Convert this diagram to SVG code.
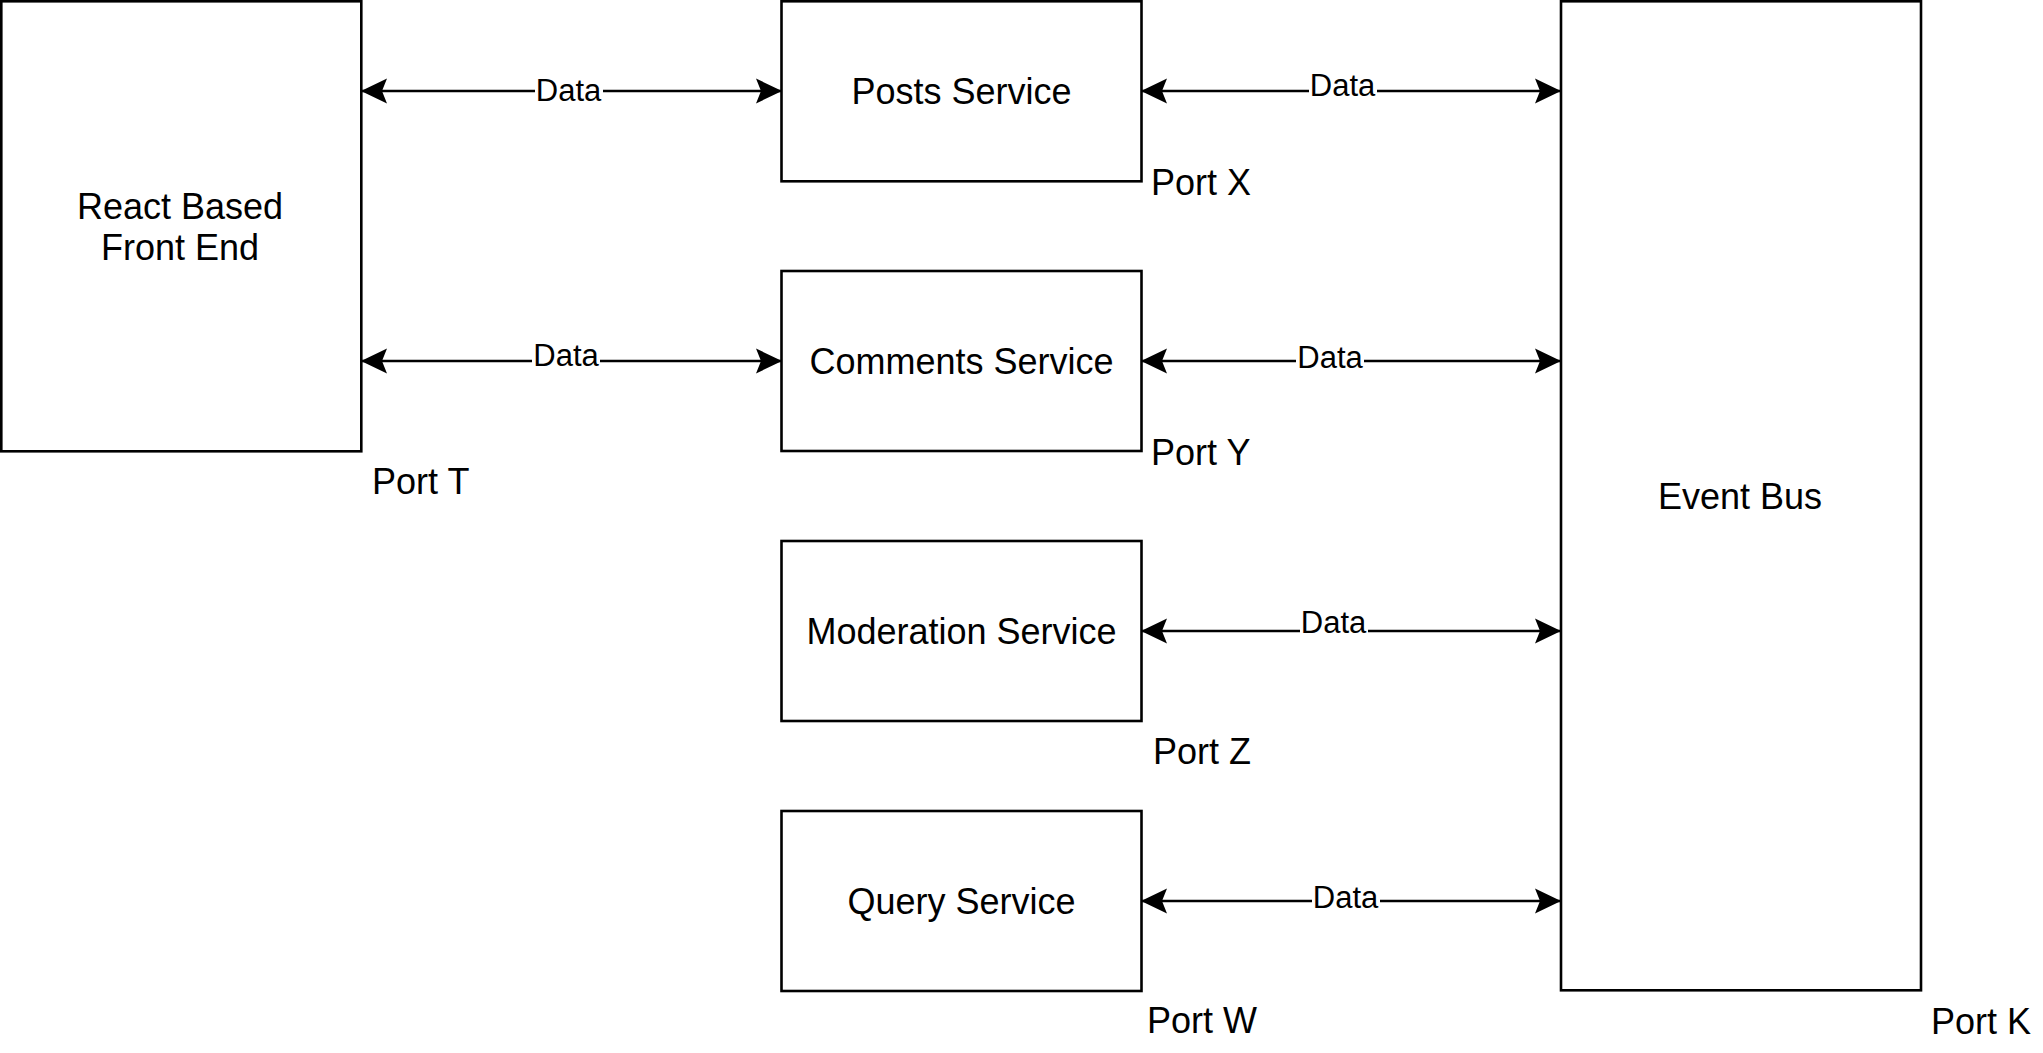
<svg xmlns="http://www.w3.org/2000/svg" width="2043" height="1053" viewBox="0 0 2043 1053">
<style>
.box{fill:#fff;stroke:#000;stroke-width:2.6}
.lbl{font-family:"Liberation Sans",Arial,sans-serif;font-size:36px;fill:#000}
.mid{text-anchor:middle}
.edge{stroke:#000;stroke-width:2.4;fill:none}
.elbl{font-family:"Liberation Sans",Arial,sans-serif;font-size:31px;fill:#000;text-anchor:middle}
.bg{fill:#fff}
</style>
<defs>
<marker id="arr" viewBox="0 0 26 26" refX="25" refY="13" markerWidth="26" markerHeight="26" markerUnits="userSpaceOnUse" orient="auto-start-reverse">
<path d="M0,0.5 L26,13 L0,25.5 L5,13 Z" fill="#000"/>
</marker>
</defs>
<rect width="2043" height="1053" fill="#fff"/>
<g id="connectors">
<line class="edge" x1="362" y1="91" x2="781" y2="91" marker-start="url(#arr)" marker-end="url(#arr)"/>
<line class="edge" x1="362" y1="361" x2="781" y2="361" marker-start="url(#arr)" marker-end="url(#arr)"/>
<line class="edge" x1="1142" y1="91" x2="1560" y2="91" marker-start="url(#arr)" marker-end="url(#arr)"/>
<line class="edge" x1="1142" y1="361" x2="1560" y2="361" marker-start="url(#arr)" marker-end="url(#arr)"/>
<line class="edge" x1="1142" y1="631" x2="1560" y2="631" marker-start="url(#arr)" marker-end="url(#arr)"/>
<line class="edge" x1="1142" y1="901" x2="1560" y2="901" marker-start="url(#arr)" marker-end="url(#arr)"/>
<rect class="bg" x="535" y="76" width="68" height="28"/>
<text class="elbl" x="568.5" y="101">Data</text>
<rect class="bg" x="532" y="341" width="68" height="28"/>
<text class="elbl" x="566" y="366">Data</text>
<rect class="bg" x="1309" y="70" width="68" height="28"/>
<text class="elbl" x="1342.5" y="95.5">Data</text>
<rect class="bg" x="1296" y="343" width="68" height="28"/>
<text class="elbl" x="1330" y="368">Data</text>
<rect class="bg" x="1300" y="607" width="68" height="28"/>
<text class="elbl" x="1333.5" y="632.5">Data</text>
<rect class="bg" x="1312" y="883" width="68" height="28"/>
<text class="elbl" x="1345.5" y="908">Data</text>
</g>
<g id="frontend">
<rect class="box" x="1.3" y="1.3" width="360" height="450"/>
<text class="lbl mid" x="180" y="219">React Based</text>
<text class="lbl mid" x="180" y="260">Front End</text>
<text class="lbl" x="372" y="494">Port T</text>
</g>
<g id="posts">
<rect class="box" x="781.5" y="1.3" width="360" height="180"/>
<text class="lbl mid" x="961.5" y="104">Posts Service</text>
<text class="lbl" x="1151" y="195">Port X</text>
</g>
<g id="comments">
<rect class="box" x="781.5" y="271" width="360" height="180"/>
<text class="lbl mid" x="961.5" y="374">Comments Service</text>
<text class="lbl" x="1151" y="465">Port Y</text>
</g>
<g id="moderation">
<rect class="box" x="781.5" y="541" width="360" height="180"/>
<text class="lbl mid" x="961.5" y="644">Moderation Service</text>
<text class="lbl" x="1153" y="764">Port Z</text>
</g>
<g id="query">
<rect class="box" x="781.5" y="811" width="360" height="180"/>
<text class="lbl mid" x="961.5" y="914">Query Service</text>
<text class="lbl" x="1147" y="1033">Port W</text>
</g>
<g id="eventbus">
<rect class="box" x="1561" y="1.3" width="360" height="989"/>
<text class="lbl mid" x="1740" y="509">Event Bus</text>
<text class="lbl" x="1931" y="1034">Port K</text>
</g>
</svg>
